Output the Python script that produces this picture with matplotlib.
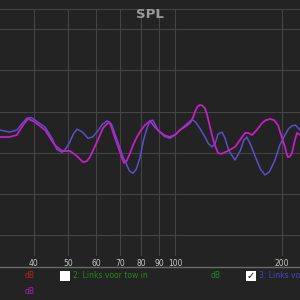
import matplotlib
matplotlib.use("Agg")
import matplotlib.pyplot as plt
from matplotlib.patches import Rectangle

# frequency response readings (Hz, dB)
blue_freq = [32.1, 34.2, 35.8, 37.0, 38.2, 39.3, 40.3, 43.0, 45.0, 46.4, 48.0,
             49.2, 50.5, 51.7, 52.9, 54.8, 56.8, 58.5, 60.2, 62.2, 64.2, 65.2,
             66.3, 68.0, 69.9, 71.2, 72.6, 74.3, 76.0, 77.7, 79.5, 81.4, 83.3,
             84.9, 86.5, 89.4, 93.0, 96.6, 100.0, 103.1, 107.5, 110.5, 112.3,
             114.5, 117.5, 121.3, 124.0, 126.9, 129.5, 132.0, 135.4, 138.0,
             141.5, 147.4, 152.5, 156.0, 159.0, 163.0, 169.0, 174.0, 179.0,
             184.0, 191.0, 197.0, 203.7, 208.5, 213.2, 218.0, 224.6]
blue_db = [75.5, 75.0, 75.5, 77.0, 78.4, 78.5, 77.9, 76.2, 73.5, 70.8, 70.1,
           71.0, 72.6, 74.6, 75.7, 75.0, 73.5, 73.8, 75.0, 76.8, 77.7, 77.5,
           76.7, 74.0, 71.1, 69.0, 67.5, 65.6, 65.0, 66.0, 68.7, 73.0, 76.0,
           77.7, 77.9, 75.5, 74.0, 73.5, 74.3, 75.5, 76.9, 77.8, 77.9,
           77.3, 75.8, 73.8, 72.2, 71.4, 72.2, 74.5, 75.0, 73.6,
           70.5, 68.2, 70.5, 73.0, 73.8, 72.0, 68.5, 65.9, 64.6,
           65.3, 68.2, 71.8, 74.3, 75.8, 76.5, 76.7, 75.5]

mag_freq = [32.1, 34.2, 35.8, 37.2, 38.5, 40.0, 43.0, 45.8, 48.0, 50.5, 52.5,
            55.0, 56.3, 57.5, 60.2, 62.6, 64.6, 65.7, 66.8, 68.5, 69.9, 71.7,
            73.0, 74.6, 76.2, 78.0, 80.0, 82.2, 84.9, 87.5, 90.6, 93.5, 96.6,
            100.0, 103.1, 107.0, 110.0, 112.0, 113.7, 115.5, 117.4, 119.3,
            121.3, 123.3, 125.3, 128.5, 132.0, 135.0, 138.0, 142.0, 147.4,
            152.0, 157.2, 160.5, 164.6, 170.0, 175.6, 180.0, 184.9, 190.0,
            194.7, 199.5, 203.7, 205.8, 207.7, 210.5, 213.2, 216.5, 220.2,
            224.6]
mag_db = [73.8, 73.8, 74.3, 76.6, 78.2, 77.6, 75.5, 71.8, 70.4, 70.4, 69.4,
          67.7, 67.9, 68.9, 72.6, 76.0, 77.2, 77.0, 75.0, 72.3, 70.1, 67.5,
          68.0, 69.9, 72.0, 73.8, 75.4, 76.7, 77.7, 76.3, 75.0, 74.2, 73.8,
          74.4, 75.5, 76.4, 77.2, 78.4, 79.9, 81.2, 81.6, 81.4,
          80.8, 78.8, 76.2, 72.5, 69.9, 69.7, 70.1, 70.6, 71.4,
          73.0, 74.8, 74.8, 74.3, 75.6, 77.2, 77.9, 78.2, 77.9,
          76.7, 73.8, 71.4, 69.8, 68.9, 69.1, 69.9, 72.5, 74.8,
          74.3]

x_ticks = [40, 50, 60, 70, 80, 90, 100, 200]
y_grid = [50, 60, 70, 80, 90, 100]

bg = "#232323"
grid_col = "#444444"

fig = plt.figure(figsize=(3, 3), dpi=100, facecolor=bg)
ax = fig.add_axes([0, 44 / 300, 1, 247 / 300], facecolor=bg)

ax.plot(blue_freq, blue_db, color="#5a4fc8", lw=1.1, zorder=3,
        solid_joinstyle="round")
ax.plot(mag_freq, mag_db, color="#c21fc4", lw=1.3, zorder=4,
        solid_joinstyle="round")

ax.set_xscale("log")
ax.set_xlim(32.1, 224.6)
ax.set_ylim(44.9, 104.9)
ax.set_xticks(x_ticks)
ax.set_xticklabels([str(t) for t in x_ticks])
ax.xaxis.set_minor_locator(matplotlib.ticker.NullLocator())
ax.set_yticks(y_grid)
ax.set_yticklabels([])
ax.tick_params(axis="x", length=0, pad=2, labelsize=5.5, labelcolor="#c8c8c8")
ax.tick_params(axis="y", length=0)
ax.grid(True, color=grid_col, lw=0.8)
for s in ax.spines.values():
    s.set_visible(False)
ax.spines["top"].set_visible(True)
ax.spines["top"].set_color(grid_col)

fig.text(0.5, 1 - 15 / 300, "SPL", ha="center", va="center",
         fontsize=9.5, fontweight="bold", color="#9a9a9a")

# separator and legend strip
fig.add_artist(plt.Line2D([0, 1], [1 - 267 / 300, 1 - 267 / 300],
                          color="#6a6a6a", lw=1))
fig.text(30 / 300, 1 - 276 / 300, "dB", color="#c0201e", fontsize=5.5,
         ha="center", va="center")
fig.text(30 / 300, 1 - 291 / 300, "dB", color="#b01fc0", fontsize=5.5,
         ha="center", va="center")
fig.add_artist(Rectangle((60 / 300, 1 - 281 / 300), 10 / 300, 10 / 300,
                         facecolor="white", edgecolor="none"))
fig.text(73 / 300, 1 - 276 / 300, "2: Links voor tow in", color="#1e8a1e",
         fontsize=5.5, ha="left", va="center")
fig.text(216 / 300, 1 - 276 / 300, "dB", color="#1e8a1e", fontsize=5.5,
         ha="center", va="center")
fig.add_artist(Rectangle((246 / 300, 1 - 281 / 300), 10 / 300, 10 / 300,
                         facecolor="white", edgecolor="none"))
fig.text(251 / 300, 1 - 276 / 300, "\u2713", color="black", fontsize=7,
         ha="center", va="center")
fig.text(259 / 300, 1 - 276 / 300, "3: Links voor", color="#4a44c0",
         fontsize=5.5, ha="left", va="center")

fig.savefig("out.png", dpi=100, facecolor=bg)
